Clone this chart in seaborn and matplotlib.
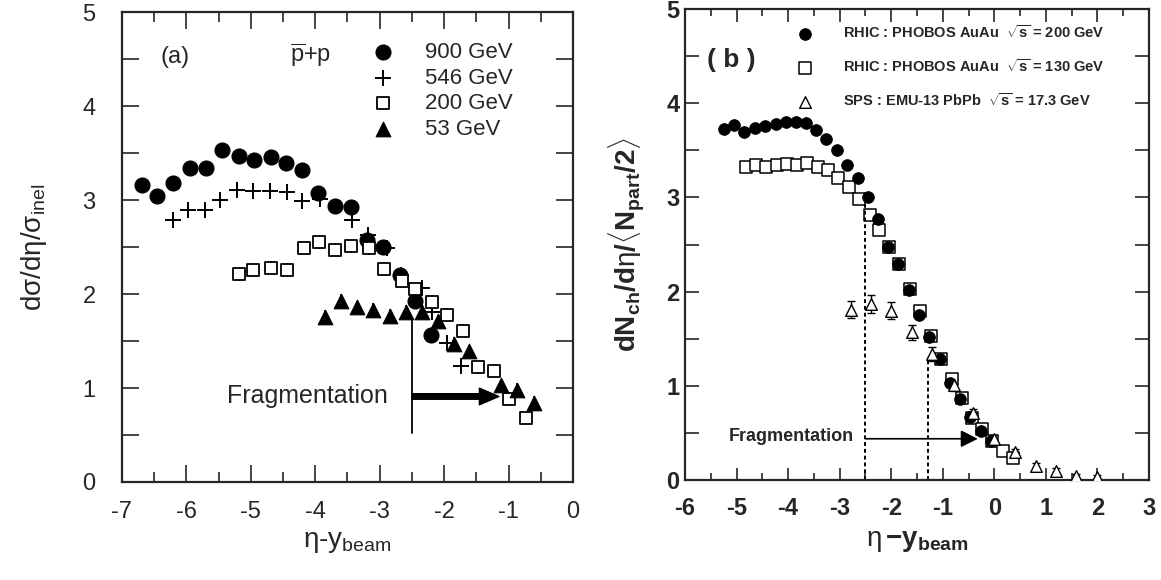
import numpy as np
import pandas as pd
import matplotlib
matplotlib.use("Agg")
import matplotlib.pyplot as plt
import seaborn as sns

# ---- panel (a): p-pbar data
x_900 = [-6.69, -6.45, -6.20, -5.95, -5.70, -5.44, -5.19, -4.95, -4.69, -4.45,
         -4.20, -3.95, -3.69, -3.45, -3.20, -2.95, -2.69, -2.45, -2.21]
y_900 = [3.16, 3.04, 3.18, 3.34, 3.34, 3.53, 3.47, 3.43, 3.46, 3.40,
         3.32, 3.08, 2.94, 2.93, 2.58, 2.50, 2.20, 1.93, 1.56]
x_546 = [-6.21, -5.97, -5.71, -5.47, -5.22, -4.96, -4.70, -4.44, -4.21, -3.93,
         -3.43, -3.18, -2.89, -2.67, -2.35, -2.19, -1.96, -1.73]
y_546 = [2.79, 2.89, 2.89, 3.00, 3.11, 3.10, 3.10, 3.09, 2.99, 3.01,
         2.79, 2.63, 2.49, 2.20, 2.06, 1.81, 1.48, 1.23]
x_200 = [-5.19, -4.96, -4.69, -4.44, -4.18, -3.94, -3.69, -3.45, -3.16, -2.94,
         -2.66, -2.45, -2.19, -1.95, -1.71, -1.47, -1.22, -0.99, -0.73]
y_200 = [2.21, 2.26, 2.28, 2.26, 2.49, 2.55, 2.47, 2.51, 2.49, 2.27,
         2.14, 2.05, 1.92, 1.78, 1.61, 1.22, 1.18, 0.88, 0.68]
x_53 = [-3.85, -3.60, -3.35, -3.10, -2.84, -2.59, -2.35, -2.10, -1.84, -1.61,
        -1.11, -0.87, -0.61]
y_53 = [1.76, 1.93, 1.86, 1.83, 1.77, 1.81, 1.81, 1.71, 1.47, 1.39,
        1.03, 0.98, 0.84]

# ---- panel (b): heavy-ion data
x_au200 = [-5.25, -5.05, -4.86, -4.65, -4.45, -4.24, -4.05, -3.85, -3.65, -3.45,
           -3.26, -3.06, -2.85, -2.65, -2.45, -2.26, -2.06, -1.86, -1.66, -1.47,
           -1.26, -1.05, -0.86, -0.66, -0.47, -0.26, -0.06]
y_au200 = [3.73, 3.77, 3.69, 3.74, 3.76, 3.78, 3.80, 3.80, 3.79, 3.72,
           3.62, 3.50, 3.34, 3.21, 3.01, 2.77, 2.48, 2.29, 2.02, 1.75,
           1.52, 1.29, 1.03, 0.86, 0.67, 0.52, 0.42]
x_au130 = [-4.82, -4.62, -4.42, -4.22, -4.03, -3.82, -3.63, -3.43, -3.23, -3.03,
           -2.82, -2.63, -2.42, -2.23, -2.04, -1.84, -1.63, -1.44, -1.23, -1.03,
           -0.82, -0.63, -0.44, -0.24, -0.04, 0.16, 0.36]
y_au130 = [3.32, 3.34, 3.32, 3.34, 3.36, 3.35, 3.37, 3.32, 3.29, 3.21,
           3.11, 2.98, 2.81, 2.65, 2.47, 2.29, 2.03, 1.80, 1.53, 1.29,
           1.07, 0.87, 0.66, 0.54, 0.42, 0.31, 0.24]
x_pb = [-2.79, -2.39, -2.00, -1.60, -1.21, -0.78, -0.41, 0.00, 0.40, 0.80,
        1.19, 1.59, 1.99]
y_pb = [1.81, 1.87, 1.80, 1.57, 1.34, 1.01, 0.71, 0.44, 0.30, 0.15,
        0.10, 0.04, 0.03]
e_pb = [0.09, 0.10, 0.09, 0.08, 0.07, 0.06, 0.05, 0.04, 0.03, 0.03,
        0.03, 0.03, 0.03]

sns.set_style("ticks")
plt.rcParams["font.family"] = ["Liberation Sans", "DejaVu Sans"]
plt.rcParams["mathtext.fontset"] = "custom"
plt.rcParams["mathtext.rm"] = "Liberation Sans"
plt.rcParams["mathtext.it"] = "Liberation Sans:italic"
plt.rcParams["mathtext.bf"] = "Liberation Sans:bold"
plt.rcParams["axes.unicode_minus"] = False

fig = plt.figure(figsize=(11.61, 5.8), dpi=100)
ax_a = fig.add_axes([0.105, 0.169, 0.3885, 0.810])
ax_b = fig.add_axes([0.590, 0.172, 0.3997, 0.8125])


def style_axes(ax, xlim, xmaj, bold):
    ax.set_xlim(*xlim)
    ax.set_ylim(0, 5)
    ax.set_xticks(xmaj)
    ax.set_xticks(np.arange(xlim[0], xlim[1] + 0.01, 0.5), minor=True)
    ax.set_yticks(range(0, 6))
    ax.set_yticks(np.arange(0, 5.01, 0.5), minor=True)
    for s in ax.spines.values():
        s.set_linewidth(1.6)
        s.set_visible(True)
    ax.tick_params(which="both", direction="in", top=True, right=True,
                   width=1.2, labelsize=17)
    ax.tick_params(which="major", length=12)
    ax.tick_params(which="minor", length=7)
    ax.tick_params(axis="y", which="both", length=12, pad=19)
    ax.tick_params(axis="x", which="both", pad=14)
    if bold:
        for lab in ax.get_xticklabels() + ax.get_yticklabels():
            lab.set_fontweight("bold")


# ---- panel (a)
err = 0.07
for xs, ys in [(x_900, y_900), (x_546, y_546), (x_200, y_200), (x_53, y_53)]:
    ax_a.errorbar(xs, ys, yerr=err, fmt="none", ecolor="black", elinewidth=1.2)

sns.scatterplot(x=x_900, y=y_900, ax=ax_a, marker="o", s=115, color="black",
                edgecolor="black", label="900 GeV", zorder=3)
sns.scatterplot(x=x_546, y=y_546, ax=ax_a, marker="+", s=130, color="black",
                linewidth=1.4, label="546 GeV", zorder=3)
sns.scatterplot(x=x_200, y=y_200, ax=ax_a, marker="s", s=70, color="white",
                edgecolor="black", linewidth=1.3, label="200 GeV", zorder=3)
sns.scatterplot(x=x_53, y=y_53, ax=ax_a, marker="^", s=110, color="black",
                edgecolor="black", label="53 GeV", zorder=3)

style_axes(ax_a, (-7, 0), range(-7, 1), bold=False)
ax_a.set_xlabel("η-y$_{\\rm beam}$", fontsize=20, labelpad=4)
ax_a.set_ylabel("dσ/dη/σ$_{\\rm inel}$", fontsize=20, labelpad=24)
ax_a.legend(loc="upper left", bbox_to_anchor=(0.51, 0.955), frameon=False,
            fontsize=16, handletextpad=0.9, labelspacing=0.2, borderaxespad=0)
ax_a.text(-6.18, 4.52, "(a)", fontsize=17, ha="center", va="center")
ax_a.text(-4.07, 4.54, r"$\overline{\rm p}$+p", fontsize=17, ha="center", va="center")
ax_a.text(-2.88, 0.91, "Fragmentation", fontsize=18, ha="right", va="center")
ax_a.plot([-2.5, -2.5], [0.52, 1.72], color="black", lw=1.3)
ax_a.annotate("", xy=(-1.15, 0.91), xytext=(-2.5, 0.91),
              arrowprops=dict(width=4.0, headwidth=12, headlength=14,
                              facecolor="black", edgecolor="black", shrink=0))

# ---- panel (b)
ax_b.errorbar(x_pb, y_pb, yerr=e_pb, fmt="none", ecolor="black", elinewidth=1.0,
              capsize=3)
sns.scatterplot(x=x_au200, y=y_au200, ax=ax_b, marker="o", s=70, color="black",
                edgecolor="black", zorder=3,
                label=r"RHIC : PHOBOS AuAu  $\sqrt{\mathbf{s}}$ = 200 GeV")
sns.scatterplot(x=x_au130, y=y_au130, ax=ax_b, marker="s", s=75, color="white",
                edgecolor="black", linewidth=1.1, zorder=2,
                label=r"RHIC : PHOBOS AuAu  $\sqrt{\mathbf{s}}$ = 130 GeV")
sns.scatterplot(x=x_pb, y=y_pb, ax=ax_b, marker="^", s=70, color="white",
                edgecolor="black", linewidth=1.0, zorder=3,
                label=r"SPS : EMU-13 PbPb  $\sqrt{\mathbf{s}}$ = 17.3 GeV")

style_axes(ax_b, (-6, 3), range(-6, 4), bold=True)
ax_b.tick_params(which="major", length=9)
ax_b.tick_params(which="minor", length=5)
ax_b.tick_params(axis="y", which="both", length=10, pad=4)
ax_b.tick_params(axis="x", which="both", pad=12)
ax_b.set_xlabel("η$\\,\\mathbf{-y_{beam}}$", fontsize=20, labelpad=6)
ax_b.set_ylabel(r"$\mathbf{dN_{ch}/d}$η$\mathbf{/}\langle\mathbf{N_{part}/2}\rangle$",
                fontsize=20, labelpad=14)
ax_b.legend(loc="upper left", bbox_to_anchor=(0.215, 0.98), frameon=False,
            prop={"size": 10.5, "weight": "bold"}, handletextpad=1.6,
            labelspacing=1.15, borderaxespad=0)
ax_b.text(-5.1, 4.46, "( b )", fontsize=19, fontweight="bold", ha="center",
          va="center")
ax_b.text(-2.73, 0.46, "Fragmentation", fontsize=13, fontweight="bold",
          ha="right", va="center")
ax_b.vlines([-2.5], 0, 3.0, colors="black", linestyles=(0, (2, 1.5)), lw=1.4)
ax_b.vlines([-1.28], 0, 1.31, colors="black", linestyles=(0, (2, 1.5)), lw=1.4)
ax_b.annotate("", xy=(-0.32, 0.44), xytext=(-2.5, 0.44),
              arrowprops=dict(arrowstyle="-|>", mutation_scale=26, lw=1.2,
                              color="black", shrinkA=0, shrinkB=0))

fig.savefig("out.png", dpi=100)
